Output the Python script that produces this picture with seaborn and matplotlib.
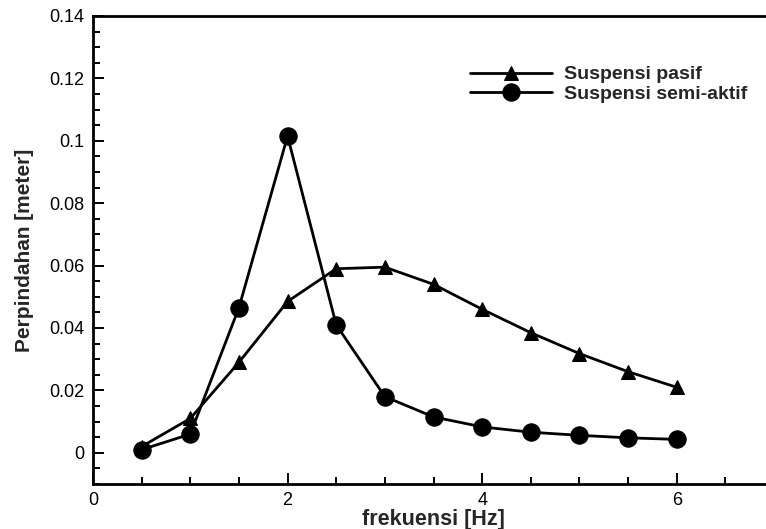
import matplotlib
matplotlib.use("Agg")
import matplotlib.pyplot as plt
from matplotlib.ticker import MultipleLocator, FuncFormatter
import seaborn as sns
import pandas as pd

frekuensi = [0.5, 1.0, 1.5, 2.0, 2.5, 3.0, 3.5, 4.0, 4.5, 5.0, 5.5, 6.0]
pasif = [0.002, 0.011, 0.029, 0.0485, 0.059, 0.0595, 0.054, 0.046, 0.0385, 0.0318, 0.026, 0.021]
semi_aktif = [0.001, 0.006, 0.0465, 0.1015, 0.041, 0.018, 0.0115, 0.0083, 0.0066, 0.0056, 0.0048, 0.0043]
series_names = ["Suspensi pasif", "Suspensi semi-aktif"]

df = pd.DataFrame({
    "frekuensi": frekuensi * 2,
    "perpindahan": pasif + semi_aktif,
    "seri": [series_names[0]] * len(frekuensi) + [series_names[1]] * len(frekuensi),
})

sns.set_theme(style="ticks")
plt.rcParams["font.family"] = ["Liberation Sans", "DejaVu Sans"]

fig = plt.figure(figsize=(7.66, 5.29), dpi=100)
ax = fig.add_axes([93 / 766, 1 - 484 / 529, 681 / 766, 468 / 529])

marker_map = {series_names[0]: "^", series_names[1]: "o"}
size_map = {series_names[0]: 9.5, series_names[1]: 12.5}
for name in series_names:
    sub = df[df["seri"] == name]
    sns.lineplot(data=sub, x="frekuensi", y="perpindahan", ax=ax, color="black",
                 marker=marker_map[name], markersize=size_map[name],
                 markeredgecolor="black", markerfacecolor="black",
                 linewidth=2.0, label=name, legend=False)

ax.set_xlim(0, 7)
ax.set_ylim(-0.01, 0.14)
ax.xaxis.set_major_locator(MultipleLocator(2))
ax.xaxis.set_minor_locator(MultipleLocator(0.5))
ax.yaxis.set_major_locator(MultipleLocator(0.02))
ax.yaxis.set_minor_locator(MultipleLocator(0.005))
ax.yaxis.set_major_formatter(FuncFormatter(lambda v, p: "0" if abs(v) < 1e-9 else f"{v:g}"))
ax.xaxis.set_major_formatter(FuncFormatter(lambda v, p: f"{v:g}"))

ax.tick_params(which="both", direction="in", colors="black", labelsize=13, width=1.4)
ax.tick_params(which="major", length=8, pad=6)
ax.tick_params(which="minor", length=5)
ax.tick_params(axis="x", top=False)
ax.tick_params(axis="y", right=False)

for side in ["left", "bottom", "top"]:
    ax.spines[side].set_linewidth(2.0)
    ax.spines[side].set_color("black")
ax.spines["right"].set_visible(False)

ax.set_xlabel("frekuensi [Hz]", fontsize=15.5, fontweight="bold", labelpad=0)
ax.set_ylabel("Perpindahan [meter]", fontsize=15, fontweight="bold", labelpad=11)

leg = ax.legend(loc="upper left", bbox_to_anchor=(0.528, 0.931), frameon=False,
                prop={"weight": "bold", "size": 14}, handlelength=4.2,
                labelspacing=0.1, handletextpad=0.65)

fig.savefig("out.png", dpi=100)
